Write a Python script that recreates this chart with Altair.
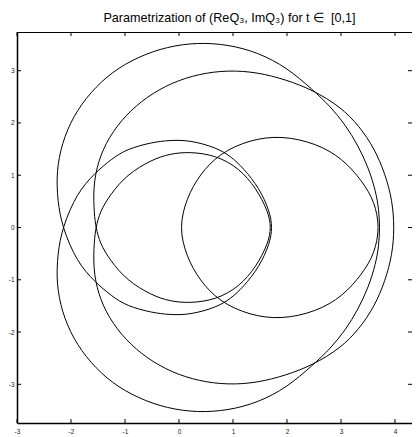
import altair as alt
import pandas as pd

# Loop 1: outer-left / top(3.53) arc -> inner-right arc, crossing at (-2.16, 0) with the medium loop
loop1_x = [3.72, 3.70, 3.645, 3.51, 3.32, 3.085, 2.80, 2.48, 2.00, 1.46, 0.91, 0.345, -0.22, -0.75,
           -1.24, -1.64, -1.96, -2.17, -2.27, -2.25, -2.16,
           -1.89, -1.56, -1.25, -0.97, -0.50, -0.17, 0.20, 0.69, 0.96, 1.19, 1.49, 1.68, 1.73,
           1.68, 1.49, 1.19, 0.96, 0.69, 0.20, -0.17, -0.50, -0.97, -1.25, -1.56, -1.89, -2.16,
           -2.25, -2.27, -2.17, -1.96, -1.64, -1.24, -0.75, -0.22, 0.345, 0.91, 1.46, 2.00, 2.48,
           2.80, 3.085, 3.32, 3.51, 3.645, 3.70]
loop1_y = [0.00, 0.35, 0.69, 1.14, 1.56, 1.96, 2.32, 2.63, 3.06, 3.35, 3.50, 3.54, 3.46, 3.27,
           2.98, 2.59, 2.13, 1.61, 1.07, 0.51, 0.00,
           -0.66, -1.04, -1.31, -1.50, -1.63, -1.67, -1.67, -1.53, -1.36, -1.14, -0.75, -0.31, 0.00,
           0.31, 0.75, 1.14, 1.36, 1.53, 1.67, 1.67, 1.63, 1.50, 1.31, 1.04, 0.66, 0.00,
           -0.51, -1.07, -1.61, -2.13, -2.59, -2.98, -3.27, -3.46, -3.54, -3.50, -3.35, -3.06, -2.63,
           -2.32, -1.96, -1.56, -1.14, -0.69, -0.35]

# Loop 2: second big arc (top 3.0, outer right 3.99) with the inner loop, crossing at (-1.54, 0)
loop2_x = [3.99, 3.95, 3.82, 3.62, 3.34, 2.99, 2.48, 1.975, 1.45, 0.91, 0.37, -0.14, -0.60, -0.99, -1.30,
           -1.50, -1.59, -1.57, -1.54,
           -1.46, -1.28, -0.97, -0.50, -0.17, 0.20, 0.69, 1.12, 1.43, 1.65, 1.71,
           1.65, 1.43, 1.12, 0.69, 0.20, -0.17, -0.50, -0.97, -1.28, -1.46, -1.54,
           -1.57, -1.59, -1.50, -1.30, -0.99, -0.60, -0.14, 0.37, 0.91, 1.45, 1.975, 2.48, 2.99, 3.34,
           3.62, 3.82, 3.95]
loop2_y = [0.00, 0.52, 1.02, 1.51, 1.94, 2.31, 2.63, 2.83, 2.97, 3.01, 2.94, 2.77, 2.50, 2.15, 1.73,
           1.27, 0.77, 0.26, 0.00,
           -0.31, -0.62, -1.01, -1.30, -1.41, -1.45, -1.38, -1.13, -0.75, -0.31, 0.00,
           0.31, 0.75, 1.13, 1.38, 1.45, 1.41, 1.30, 1.01, 0.62, 0.31, 0.00,
           -0.26, -0.77, -1.27, -1.73, -2.15, -2.50, -2.77, -2.94, -3.01, -2.97, -2.83, -2.63, -2.31, -1.94,
           -1.51, -1.02, -0.52]

# Loop 3: right-hand loop between x=0 and x=3.72
loop3_x = [0.00, 0.14, 0.38, 0.75, 1.31, 1.90, 2.54, 3.03, 3.40, 3.62, 3.72,
           3.62, 3.40, 3.03, 2.54, 1.90, 1.31, 0.75, 0.38, 0.14]
loop3_y = [0.00, 0.56, 1.01, 1.42, 1.68, 1.76, 1.61, 1.32, 0.88, 0.50, 0.00,
           -0.50, -0.88, -1.32, -1.61, -1.76, -1.68, -1.42, -1.01, -0.56]

x_ticks = [-3, -2, -1, 0, 1, 2, 3, 4]
y_ticks = [-3, -2, -1, 0, 1, 2, 3]
title_text = "Parametrization of (ReQ\u2083, ImQ\u2083) for t \u2208\u00a0\u00a0[0,1]"

rows = []
for name, xs_, ys_ in [("a", loop1_x, loop1_y), ("b", loop2_x, loop2_y), ("c", loop3_x, loop3_y)]:
    for i, (a, b) in enumerate(zip(xs_, ys_)):
        rows.append({"loop": name, "i": i, "x": a, "y": b})
df = pd.DataFrame(rows)

W, H = 395, 391
FONT = "Liberation Sans"
xs = alt.Scale(domain=[-3, 4.315], nice=False, zero=False)
ys = alt.Scale(domain=[-3.74, 3.74], nice=False, zero=False)

axis_common = dict(title=None, ticks=False, grid=False, domainColor="black", domainWidth=1.5,
                   labelFontSize=6.5, labelColor="#222222", labelFont=FONT, labelOverlap=False,
                   labelExpr="'' + datum.value")
x_axis = alt.Axis(values=x_ticks, labelPadding=5, labelFlush=False, **axis_common)
y_axis = alt.Axis(values=y_ticks, labelPadding=3, **axis_common)

curves = alt.Chart(df).mark_line(interpolate="basis-closed", color="black", strokeWidth=1).encode(
    x=alt.X("x:Q", scale=xs, axis=x_axis),
    y=alt.Y("y:Q", scale=ys, axis=y_axis),
    detail="loop:N",
    order="i:Q",
)

xt = pd.DataFrame({"x": x_ticks})
yt = pd.DataFrame({"y": y_ticks})

bottom_ticks = alt.Chart(xt).mark_rule(color="black", strokeWidth=1).encode(
    x=alt.X("x:Q", scale=xs, axis=x_axis), y=alt.value(H), y2=alt.value(H - 4))
top_ticks = alt.Chart(xt).mark_rule(color="black", strokeWidth=1).encode(
    x=alt.X("x:Q", scale=xs, axis=x_axis), y=alt.value(0), y2=alt.value(4))
left_ticks = alt.Chart(yt).mark_rule(color="black", strokeWidth=1).encode(
    y=alt.Y("y:Q", scale=ys, axis=y_axis), x=alt.value(0), x2=alt.value(4))
right_ticks = alt.Chart(yt).mark_rule(color="black", strokeWidth=1).encode(
    y=alt.Y("y:Q", scale=ys, axis=y_axis), x=alt.value(W), x2=alt.value(W - 4))
top_border = alt.Chart(xt).mark_rule(color="black", strokeWidth=1).encode(
    x=alt.value(0), x2=alt.value(W), y=alt.value(0.5))

chart = alt.layer(curves, bottom_ticks, top_ticks, left_ticks, right_ticks, top_border).properties(
    width=W, height=H,
    title=alt.TitleParams(title_text, font=FONT, fontSize=12.6, fontWeight="normal", color="black",
                          anchor="middle", dx=15, offset=7),
    autosize=alt.AutoSizeParams(type="none"),
    padding={"left": 9, "top": 24, "right": 0, "bottom": 13},
).configure_view(stroke=None).configure(background="white")

chart.save("out.html", embed_options={"renderer": "svg", "actions": False})
